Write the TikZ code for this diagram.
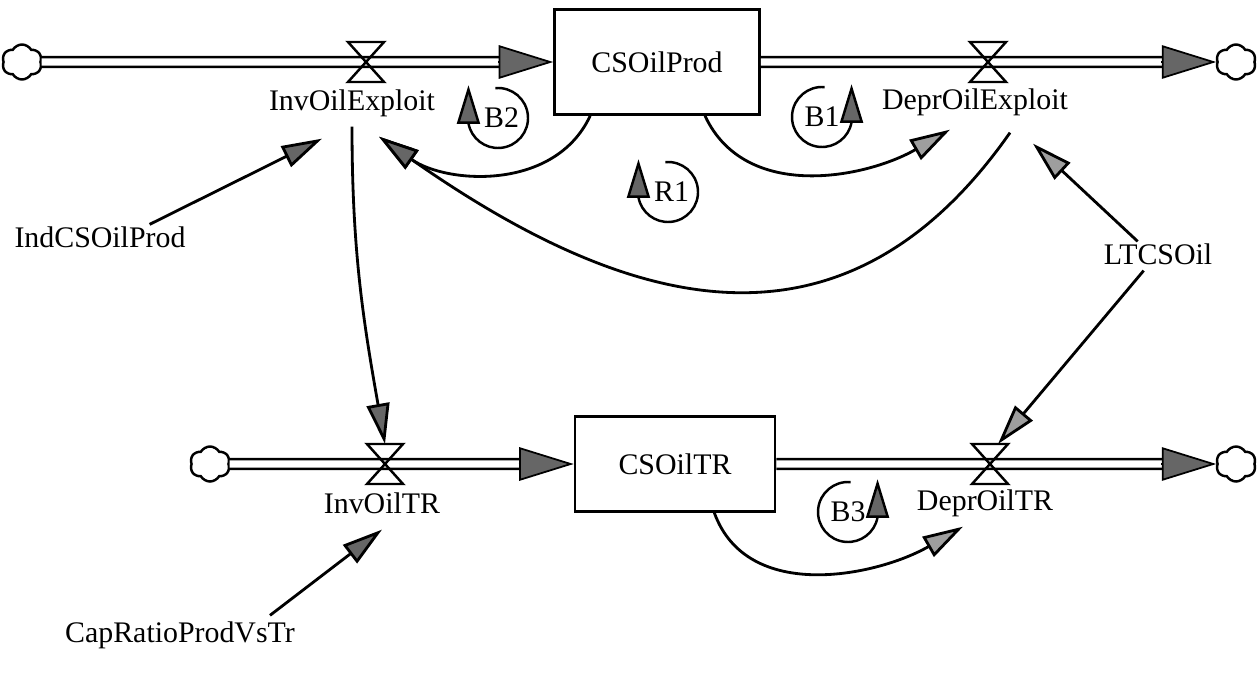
\documentclass[tikz,border=0pt]{standalone}
\usepackage{fontspec}
\setmainfont{Liberation Serif}
\usetikzlibrary{arrows.meta,calc,shapes.symbols}

\tikzset{
  stock/.style={draw, line width=1.5pt, minimum width=41mm, minimum height=21mm},
  pipe/.style={double, double distance=4pt, line width=1.5pt},
  flowtip/.style={line width=1pt, -{Triangle[length=31pt,width=19pt,fill=black!60]}},
  link/.style={line width=1.6pt, -{Triangle[length=23pt,width=13pt,fill=black!60]}},
  lightlink/.style={link, -{Triangle[length=23pt,width=13pt,fill=black!38]}},
  loopline/.style={line width=1.4pt, -{Triangle[length=22pt,width=13pt,fill=black!60]}},
  lbl/.style={inner sep=1pt},
  sink/.style={draw, cloud, cloud puffs=6, cloud puff arc=120, aspect=1.1,
    line width=1.4pt, minimum width=8mm, minimum height=7mm, inner sep=0pt},
  valve/.pic={\draw[line width=1.4pt]
    (-18,20) -- (18,20) -- (0,0) -- cycle
    (-18,-20) -- (18,-20) -- (0,0) -- cycle;}
}

\begin{document}
\begin{tikzpicture}[x=0.2mm, y=0.2mm, font=\fontsize{17}{20}\selectfont]
  \useasboundingbox (0,0) rectangle (1259,-675);

  % stocks
  \node[stock] (prod) at (657,-62) {CSOilProd};
  \node[stock, minimum width=40mm, minimum height=19mm] (tr) at (675,-464) {CSOilTR};

  % clouds
  \node[sink] (src1) at (22,-62) {};
  \node[sink] (snk1) at (1236,-62) {};
  \node[sink] (src2) at (210,-464) {};
  \node[sink] (snk2) at (1236,-464) {};

  % valves
  \coordinate (vInvExp) at (366,-62);
  \coordinate (vDepExp) at (988,-62);
  \coordinate (vInvTR) at (385,-464);
  \coordinate (vDepTR) at (990,-464);

  % pipes
  \draw[pipe, shorten >=20pt] (src1) -- (prod);
  \draw[pipe, shorten >=20pt] (prod) -- (snk1);
  \draw[pipe, shorten >=20pt] (src2) -- (tr);
  \draw[pipe, shorten >=20pt] (tr) -- (snk2);
  \draw[flowtip] ($(prod.west)+(-55,0)$) -- (prod.west);
  \draw[flowtip] ($(snk1.west)+(-55,0)$) -- (snk1.west);
  \draw[flowtip] ($(tr.west)+(-55,0)$) -- (tr.west);
  \draw[flowtip] ($(snk2.west)+(-55,0)$) -- (snk2.west);
  \pic at (vInvExp) {valve};
  \pic at (vDepExp) {valve};
  \pic at (vInvTR) {valve};
  \pic at (vDepTR) {valve};

  % names
  \node[lbl] (invExp) at (352,-103) {InvOilExploit};
  \node[lbl] (depExp) at (975,-102) {DeprOilExploit};
  \node[lbl] (invTR) at (382,-503) {InvOilTR};
  \node[lbl] (depTR) at (985,-503) {DeprOilTR};
  \node[lbl] (ind) at (100,-237) {IndCSOilProd};
  \node[lbl] (lt) at (1158,-254) {LTCSOil};
  \node[lbl] (cap) at (180,-635) {CapRatioProdVsTr};

  % links
  \draw[link] ($(ind.north east)+(-38,0)$) -- ($(invExp.south)+(-30,-20)$);
  \draw[link] ($(prod.south west)+(37,0)$) to[out=-115, in=-35] ($(invExp.south)+(27,-18)$);
  \draw[link] ($(depExp.south)+(35,-15)$) to[out=-125, in=-35, looseness=1.2] ($(invExp.south)+(27,-18)$);
  \draw[lightlink] ($(prod.south)+(48,0)$) to[out=-65, in=210] ($(depExp.south)+(-25,-12)$);
  \draw[lightlink] ($(lt.north west)+(36,0)$) -- ($(depExp.south)+(58,-26)$);
  \draw[link] ($(invExp.south)+(0,-8)$) to[out=-90, in=100] ($(vInvTR)+(0,20)$);
  \draw[lightlink] ($(lt.south west)+(42,-4)$) -- ($(vDepTR)+(8,20)$);
  \draw[lightlink] ($(tr.south east)+(-62,0)$) to[out=-70, in=210] ($(depTR.south)+(-22,-8)$);
  \draw[link] ($(cap.north)+(90,4)$) -- ($(invTR.south)+(0,-14)$);

  % loops
  \node (b2) at (498,-118) {\hspace{4pt}B2};
  \draw[loopline] ($(b2)+(95:30)$) arc[start angle=95, end angle=-170, radius=30] -- ++(0,38);
  \node (b1) at (822,-117) {B1\hspace{4pt}};
  \draw[loopline] ($(b1)+(85:30)$) arc[start angle=85, end angle=350, radius=30] -- ++(0,38);
  \node (r1) at (668,-192) {\hspace{4pt}R1};
  \draw[loopline] ($(r1)+(95:30)$) arc[start angle=95, end angle=-170, radius=30] -- ++(0,38);
  \node (b3) at (848,-512) {B3\hspace{4pt}};
  \draw[loopline] ($(b3)+(85:30)$) arc[start angle=85, end angle=350, radius=30] -- ++(0,38);
\end{tikzpicture}
\end{document}
